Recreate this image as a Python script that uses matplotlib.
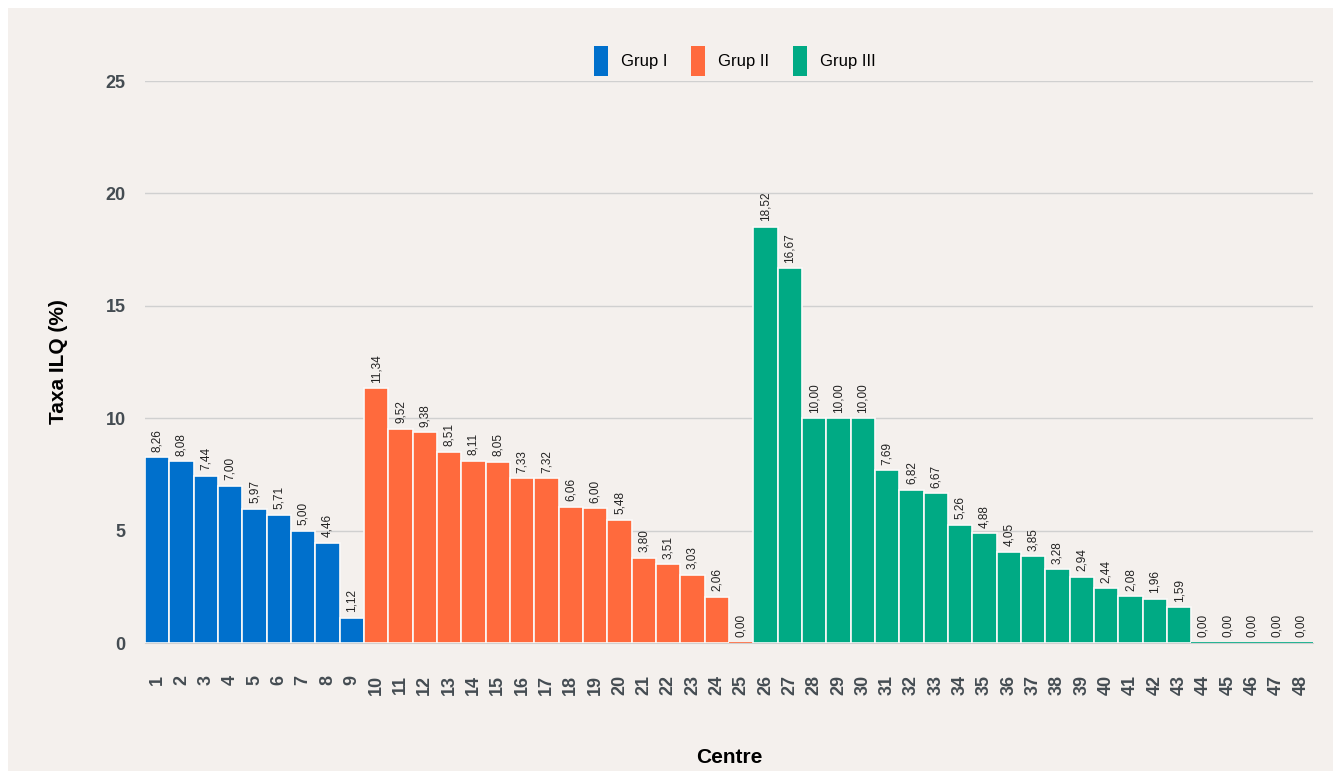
import matplotlib.pyplot as plt
from matplotlib.patches import Rectangle, Patch

plt.rcParams["font.family"] = ["Liberation Sans", "DejaVu Sans"]

centres = [str(i) for i in range(1, 49)]
grup1 = [8.26, 8.08, 7.44, 7.00, 5.97, 5.71, 5.00, 4.46, 1.12]
grup2 = [11.34, 9.52, 9.38, 8.51, 8.11, 8.05, 7.33, 7.32, 6.06, 6.00,
         5.48, 3.80, 3.51, 3.03, 2.06, 0.00]
grup3 = [18.52, 16.67, 10.00, 10.00, 10.00, 7.69, 6.82, 6.67, 5.26, 4.88,
         4.05, 3.85, 3.28, 2.94, 2.44, 2.08, 1.96, 1.59, 0.00, 0.00,
         0.00, 0.00, 0.00]
group_names = ["Grup I", "Grup II", "Grup III"]
group_colors = ["#0070cc", "#ff6a3d", "#00aa84"]

bg = "#f4f0ed"
fig = plt.figure(figsize=(13.41, 7.71), dpi=100)
fig.patch.set_facecolor("white")
fig.add_artist(Rectangle((8 / 1341, 0), 1325 / 1341, 763 / 771,
                         transform=fig.transFigure, facecolor=bg,
                         edgecolor="none", zorder=-10))

ax = fig.add_axes([145 / 1341, 1 - 643 / 771, 1168 / 1341, 562 / 771])
ax.set_facecolor(bg)

values = grup1 + grup2 + grup3
colors = ([group_colors[0]] * len(grup1) + [group_colors[1]] * len(grup2)
          + [group_colors[2]] * len(grup3))
x = list(range(len(values)))
# zero bars get a coloured edge so they show as a thin line
edges = ["#fbf9f8" if v > 0 else c for v, c in zip(values, colors)]
ax.bar(x, values, width=1.0, color=colors, edgecolor=edges,
       linewidth=1.2, zorder=3)

for xi, v in zip(x, values):
    ax.annotate(f"{v:.2f}".replace(".", ","), (xi, v), xytext=(0, 4),
                textcoords="offset points", rotation=90, ha="center",
                va="bottom", fontsize=8.5, color="#222222", zorder=4)

ax.set_xlim(-0.5, len(values) - 0.5)
ax.set_ylim(0, 25)
ax.set_yticks([0, 5, 10, 15, 20, 25])
ax.set_xticks(x)
ax.set_xticklabels(centres, rotation=90)
ax.tick_params(axis="both", length=0, labelcolor="#444c52", labelsize=13)
ax.tick_params(axis="y", pad=14)
ax.tick_params(axis="x", pad=23)
for lab in ax.get_xticklabels() + ax.get_yticklabels():
    lab.set_fontweight("bold")

ax.grid(axis="y", color="#d0d0d0", linewidth=1, zorder=0)
ax.set_axisbelow(True)
for s in ["top", "right", "left"]:
    ax.spines[s].set_visible(False)
ax.spines["bottom"].set_color("#d0d0d0")

ax.set_ylabel("Taxa ILQ (%)", fontsize=15, fontweight="bold", labelpad=27)
ax.set_xlabel("Centre", fontsize=15, fontweight="bold", labelpad=38)

handles = [Patch(facecolor=c, edgecolor="none") for c in group_colors]
ax.legend(handles, group_names, loc="center", bbox_to_anchor=(0.505, 1.035),
          ncol=3, frameon=False, fontsize=12, handlelength=0.85,
          handleheight=2.4, handletextpad=0.8, columnspacing=1.4)

fig.savefig("out.png", dpi=100, facecolor=fig.get_facecolor())
